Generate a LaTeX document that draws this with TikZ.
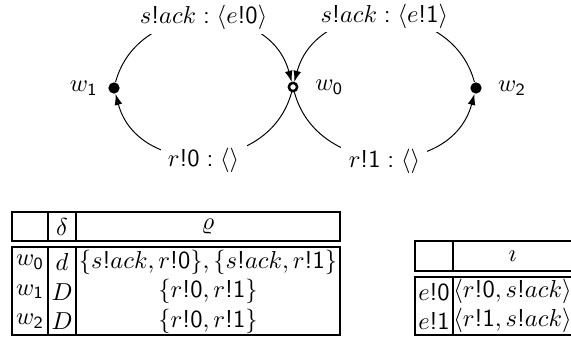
\documentclass[tikz,border=0pt]{standalone}
\usepackage{amsmath,amssymb}
\DeclareSymbolFont{operators}{OT1}{cmss}{m}{n}
\usetikzlibrary{arrows.meta,positioning}
\tikzset{
  world/.style={circle,fill,inner sep=0pt,minimum size=4.6pt},
  initworld/.style={circle,draw,fill=white,line width=1pt,inner sep=0pt,minimum size=3.4pt},
  trans/.style={-{Latex[length=4.5pt,width=3.2pt]},looseness=1.25},
  tlabel/.style={fill=white,inner xsep=3pt,inner ysep=1.5pt},
  rule/.style={line width=0.8pt}
}

\begin{document}
\begin{tikzpicture}[x=0.408pt,y=0.408pt,line join=miter]
        \useasboundingbox (0,0) rectangle (571,338);
        % worlds
        \node[world] (w1) at (114,250) {};
        \node[initworld] (w0) at (293,251) {};
        \node[world] (w2) at (476,250) {};
        \node[left=0.6pt of w1] (w1lab) {$w_1$};
        \node[right=3.4pt of w0] (w0lab) {$w_0$};
        \node[right=3pt of w2] (w2lab) {$w_2$};
        % transitions
        \draw[trans] (w1) to[out=75,in=105]
          node[tlabel,yshift=0.8pt] (l10) {$s!ack : \langle e!0\rangle$} (w0);
        \draw[trans] (w2) to[out=105,in=75]
          node[tlabel,yshift=0.8pt] (l20) {$s!ack : \langle e!1\rangle$} (w0);
        \draw[trans] (w0) to[out=-105,in=-75]
          node[tlabel,yshift=-2pt] (l01) {$r!0 : \langle\rangle$} (w1);
        \draw[trans] (w0) to[out=-75,in=-105]
          node[tlabel,yshift=-2pt] (l02) {$r!1 : \langle\rangle$} (w2);
        % table of worlds
        \draw[rule] (12,97) rectangle (340,126);
        \draw[rule] (48,97)--(48,126) (76,97)--(76,126);
        \draw[rule] (12,3) rectangle (340,91);
        \draw[rule] (48,3)--(48,91) (76,3)--(76,91);
        \node (hdelta) at (62,111.5) {$\delta$};
        \node (hrho) at (208,111.5) {$\varrho$};
        \foreach \w/\dv/\rset/\y [count=\i] in
          {w_0/d/{\{s!ack,r!0\},\{s!ack,r!1\}}/75.7,
           w_1/D/{\{r!0,r!1\}}/46.3,
           w_2/D/{\{r!0,r!1\}}/17}
          {
          \node (wname\i) at (30,\y) {$\w$};
          \node (wdelta\i) at (62,\y) {$\dv$};
          \node (wrho\i) at (208,\y) {$\rset$};
          }
        % table of events
        \draw[rule] (415,67) rectangle (573,97);
        \draw[rule] (453,67)--(453,97);
        \draw[rule] (415,3) rectangle (573,61);
        \draw[rule] (453,3)--(453,61);
        \node (hiota) at (512.5,82) {$\imath$};
        \node (ename1) at (434,46.5) {$e!0$};
        \node (eiota1) at (512.5,46.5) {$\langle r!0,s!ack\rangle$};
        \node (ename2) at (434,17.5) {$e!1$};
        \node (eiota2) at (512.5,17.5) {$\langle r!1,s!ack\rangle$};
      \end{tikzpicture}
\end{document}
